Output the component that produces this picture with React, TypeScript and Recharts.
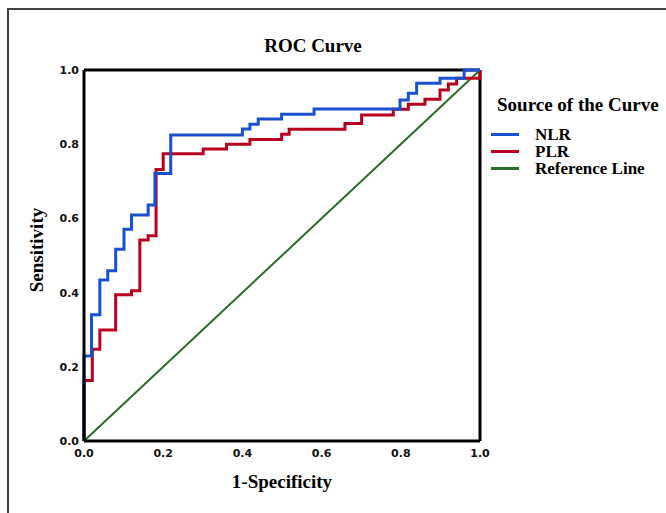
import React from 'react'
import { LineChart, Line, XAxis, YAxis, ReferenceLine } from 'recharts'

// ROC points (1-specificity, sensitivity)
const nlrFpr = [0, 0, 0.019, 0.04, 0.06, 0.08, 0.101, 0.12, 0.162, 0.179, 0.219, 0.4, 0.419, 0.44, 0.499, 0.581, 0.798, 0.819, 0.84, 0.899, 0.96, 1]
const nlrTpr = [0, 0.229, 0.34, 0.434, 0.459, 0.517, 0.571, 0.609, 0.636, 0.721, 0.825, 0.841, 0.854, 0.868, 0.881, 0.895, 0.919, 0.937, 0.964, 0.978, 1, 1]

const plrFpr = [0, 0, 0.021, 0.04, 0.08, 0.12, 0.141, 0.162, 0.182, 0.2, 0.301, 0.36, 0.419, 0.499, 0.518, 0.659, 0.701, 0.781, 0.819, 0.861, 0.899, 0.92, 0.941, 1]
const plrTpr = [0, 0.163, 0.247, 0.299, 0.394, 0.405, 0.542, 0.553, 0.732, 0.774, 0.787, 0.8, 0.813, 0.827, 0.84, 0.856, 0.879, 0.894, 0.908, 0.921, 0.946, 0.962, 0.978, 1]

const refFpr = [0, 1]
const refTpr = [0, 1]

const axisTicks = [0, 0.2, 0.4, 0.6, 0.8, 1]

const series = [
  { name: 'NLR', color: '#1a4fd0' },
  { name: 'PLR', color: '#b8001c' },
  { name: 'Reference Line', color: '#2b6b2b' },
]

const toPoints = (xs: number[], ys: number[]) => xs.map((x, i) => ({ x, y: ys[i] }))

const serif = '"Liberation Serif", "Times New Roman", serif'
const tickStyle = { fontFamily: '"DejaVu Sans", sans-serif', fontWeight: 700, fontSize: 11, fill: '#111' }

export default function App() {
  const nlr = toPoints(nlrFpr, nlrTpr)
  const plr = toPoints(plrFpr, plrTpr)
  const ref = toPoints(refFpr, refTpr)
  const fmt = (v: number) => v.toFixed(1)

  return (
    <div style={{ position: 'absolute', left: 0, top: 0, width: 666, height: 513, background: '#fff', overflow: 'hidden' }}>
      {/* outer frame of the figure */}
      <div style={{ position: 'absolute', left: 7, top: 8, right: -10, bottom: -10, borderTop: '2px solid #444', borderLeft: '2px solid #444' }} />

      <div style={{ position: 'absolute', left: 0, top: 0 }}>
        <LineChart width={666} height={513} margin={{ top: 70, right: 186, bottom: 42, left: 44 }}>
          <XAxis
            type="number"
            dataKey="x"
            domain={[0, 1]}
            ticks={axisTicks}
            tickFormatter={fmt}
            height={30}
            axisLine={{ stroke: '#000', strokeWidth: 3 }}
            tickLine={false}
            tickSize={4}
            tickMargin={4}
            tick={tickStyle}
            allowDuplicatedCategory={false}
          />
          <YAxis
            type="number"
            domain={[0, 1]}
            ticks={axisTicks}
            tickFormatter={fmt}
            width={40}
            axisLine={{ stroke: '#000', strokeWidth: 3 }}
            tickLine={false}
            tickSize={3}
            tickMargin={2}
            tick={tickStyle}
          />
          <ReferenceLine x={1} stroke="#000" strokeWidth={3} />
          <ReferenceLine y={1} stroke="#000" strokeWidth={3} />
          <Line data={ref} dataKey="y" type="linear" stroke={series[2].color} strokeWidth={2} dot={false} isAnimationActive={false} />
          <Line data={plr} dataKey="y" type="stepAfter" stroke={series[1].color} strokeWidth={3} dot={false} isAnimationActive={false} />
          <Line data={nlr} dataKey="y" type="stepAfter" stroke={series[0].color} strokeWidth={3} dot={false} isAnimationActive={false} />
        </LineChart>
      </div>

      {/* title and axis titles */}
      <div style={{ position: 'absolute', left: 183, top: 35, width: 260, textAlign: 'center', fontFamily: serif, fontWeight: 700, fontSize: 19, lineHeight: '22px' }}>
        ROC Curve
      </div>
      <div style={{ position: 'absolute', left: 182, top: 471, width: 200, textAlign: 'center', fontFamily: serif, fontWeight: 700, fontSize: 19, lineHeight: '22px' }}>
        1-Specificity
      </div>
      <div style={{ position: 'absolute', left: 37 - 60, top: 250 - 11, width: 120, textAlign: 'center', fontFamily: serif, fontWeight: 700, fontSize: 19, lineHeight: '22px', transform: 'rotate(-90deg)' }}>
        Sensitivity
      </div>

      {/* legend */}
      <div style={{ position: 'absolute', left: 497, top: 94, fontFamily: serif, fontWeight: 700, fontSize: 19, lineHeight: '22px', whiteSpace: 'nowrap' }}>
        Source of the Curve
      </div>
      {series.map((s, i) => (
        <div key={s.name} style={{ position: 'absolute', left: 491, top: 126 + i * 17, height: 17, display: 'flex', alignItems: 'center', whiteSpace: 'nowrap' }}>
          <div style={{ width: 28, height: 3, background: s.color, marginRight: 16 }} />
          <span style={{ fontFamily: serif, fontWeight: 700, fontSize: 17, lineHeight: '17px' }}>{s.name}</span>
        </div>
      ))}
    </div>
  )
}
